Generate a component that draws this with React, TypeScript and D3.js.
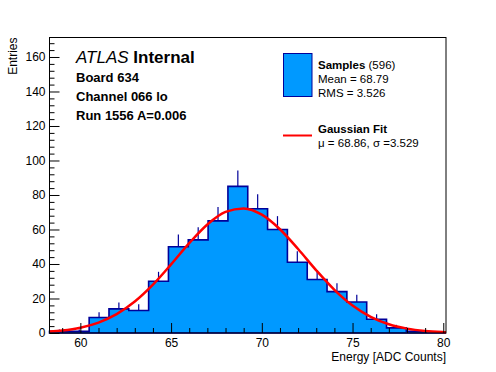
import * as d3 from 'd3';
import React, { useRef, useEffect } from 'react';

// histogram binning and contents
const binLow = 58.3;
const binHigh = 80.15;
const binCounts = [1, 1, 9, 14, 13, 30, 50, 54, 65, 85, 72, 60, 41, 31, 24, 18, 8, 3, 1, 0];

// fitted gaussian, sampled off the red curve
const fitX = [58.3, 59, 60, 61, 62, 63, 64, 65, 66, 67, 68, 69, 70, 71, 72, 73, 74, 75, 76, 77, 78, 79, 80, 80.15];
const fitY = [0.82, 1.46, 3.09, 6.05, 10.93, 18.21, 28.01, 39.75, 52.06, 62.92, 70.18, 72.24, 68.62, 60.15, 48.67, 36.33, 25.03, 15.91, 9.34, 5.05, 2.53, 1.16, 0.5, 0.43];

const yTop = 171.3;
const xMajorTicks = [60, 65, 70, 75, 80];
const yMajorTicks = [0, 20, 40, 60, 80, 100, 120, 140, 160];

const infoLines = ['Board 634', 'Channel 066 lo', 'Run 1556 A=0.006'];

const font = '"Liberation Sans", Arial, Helvetica, sans-serif';
const fillBlue = '#0099ff';
const lineBlue = '#000099';

function App() {
    const ref = useRef<SVGSVGElement>(null);

    useEffect(() => {
        const svg = d3.select(ref.current);
        svg.selectAll('*').remove();

        const left = 49.5, right = 446, top = 37.5, bottom = 333;
        const x = d3.scaleLinear().domain([binLow, binHigh]).range([left, right]);
        const y = d3.scaleLinear().domain([0, yTop]).range([bottom, top]);

        const binWidth = (binHigh - binLow) / binCounts.length;
        const bins = binCounts.map((c, i) => ({ x0: binLow + i * binWidth, x1: binLow + (i + 1) * binWidth, c }));

        svg.append('rect').attr('width', 496).attr('height', 372).attr('fill', '#fff');

        // error bars (drawn under the fill, so only the upper half shows)
        svg.append('g')
            .selectAll('line')
            .data(bins.filter(d => d.c > 0))
            .join('line')
            .attr('x1', d => x((d.x0 + d.x1) / 2))
            .attr('x2', d => x((d.x0 + d.x1) / 2))
            .attr('y1', d => y(Math.max(0, d.c - Math.sqrt(d.c))))
            .attr('y2', d => y(d.c + Math.sqrt(d.c)))
            .attr('stroke', lineBlue)
            .attr('stroke-width', 1.2);

        // histogram
        const steps = bins.map(d => [d.x0, d.c] as [number, number]);
        steps.push([binHigh, binCounts[binCounts.length - 1]]);
        const area = d3.area<[number, number]>()
            .x(d => x(d[0]))
            .y0(y(0))
            .y1(d => y(d[1]))
            .curve(d3.curveStepAfter);
        svg.append('path')
            .attr('d', area(steps))
            .attr('fill', fillBlue)
            .attr('stroke', lineBlue)
            .attr('stroke-width', 1.6);

        // fit
        const fitLine = d3.line<number>()
            .x((d, i) => x(fitX[i]))
            .y(d => y(d))
            .curve(d3.curveMonotoneX);
        svg.append('path')
            .attr('d', fitLine(fitY))
            .attr('fill', 'none')
            .attr('stroke', '#ff0000')
            .attr('stroke-width', 2.5);

        // frame
        svg.append('rect')
            .attr('x', left).attr('y', top)
            .attr('width', right - left).attr('height', bottom - top)
            .attr('fill', 'none').attr('stroke', '#000').attr('stroke-width', 1);

        // x axis
        const xMinor = d3.range(59, 81).filter(v => !xMajorTicks.includes(v));
        svg.append('g')
            .attr('transform', `translate(0,${bottom})`)
            .call(d3.axisBottom(x).tickValues(xMinor).tickSizeInner(-5).tickSizeOuter(0).tickFormat(() => ''))
            .call(g => g.select('.domain').remove());
        svg.append('g')
            .attr('transform', `translate(0,${bottom})`)
            .call(d3.axisBottom(x).tickValues(xMajorTicks).tickSizeInner(-10).tickSizeOuter(0).tickPadding(5))
            .call(g => g.select('.domain').remove())
            .call(g => g.selectAll('text').attr('font-size', 12).attr('font-family', font).attr('fill', '#000'));

        // y axis
        const yMinor = d3.range(0, 172, 4).filter(v => !yMajorTicks.includes(v));
        svg.append('g')
            .attr('transform', `translate(${left},0)`)
            .call(d3.axisLeft(y).tickValues(yMinor).tickSizeInner(-5).tickSizeOuter(0).tickFormat(() => ''))
            .call(g => g.select('.domain').remove());
        svg.append('g')
            .attr('transform', `translate(${left},0)`)
            .call(d3.axisLeft(y).tickValues(yMajorTicks).tickSizeInner(-10).tickSizeOuter(0).tickPadding(4))
            .call(g => g.select('.domain').remove())
            .call(g => g.selectAll('text').attr('font-size', 12).attr('font-family', font).attr('fill', '#000'));

        // axis titles
        svg.append('text')
            .attr('x', right).attr('y', 361)
            .attr('text-anchor', 'end')
            .attr('font-family', font).attr('font-size', 12)
            .text('Energy [ADC Counts]');
        svg.append('text')
            .attr('transform', `translate(17,${top}) rotate(-90)`)
            .attr('text-anchor', 'end')
            .attr('font-family', font).attr('font-size', 12)
            .text('Entries');

        // ATLAS label
        const atlas = svg.append('text')
            .attr('x', 76).attr('y', 63)
            .attr('font-family', font).attr('font-size', 17);
        atlas.append('tspan').attr('font-style', 'italic').text('ATLAS');
        atlas.append('tspan').attr('font-weight', 'bold').text(' Internal');

        svg.append('g')
            .selectAll('text')
            .data(infoLines)
            .join('text')
            .attr('x', 76)
            .attr('y', (d, i) => 82 + i * 19)
            .attr('font-family', font).attr('font-size', 13).attr('font-weight', 'bold')
            .text(d => d);

        // legend
        svg.append('rect')
            .attr('x', 283.5).attr('y', 53.5).attr('width', 28.5).attr('height', 43)
            .attr('fill', fillBlue).attr('stroke', lineBlue).attr('stroke-width', 1);
        const s = svg.append('text')
            .attr('x', 318).attr('y', 69)
            .attr('font-family', font).attr('font-size', 11.5);
        s.append('tspan').attr('font-weight', 'bold').text('Samples');
        s.append('tspan').text(' (596)');
        svg.append('text').attr('x', 318).attr('y', 83)
            .attr('font-family', font).attr('font-size', 11.5).text('Mean = 68.79');
        svg.append('text').attr('x', 318).attr('y', 96.5)
            .attr('font-family', font).attr('font-size', 11.5).text('RMS = 3.526');

        svg.append('line')
            .attr('x1', 283).attr('x2', 312).attr('y1', 135.5).attr('y2', 135.5)
            .attr('stroke', '#ff0000').attr('stroke-width', 2);
        svg.append('text').attr('x', 318).attr('y', 133)
            .attr('font-family', font).attr('font-size', 11.5).attr('font-weight', 'bold').text('Gaussian Fit');
        svg.append('text').attr('x', 318).attr('y', 147)
            .attr('font-family', font).attr('font-size', 11.5).text('\u03bc = 68.86, \u03c3 =3.529');
    }, []);

    return (
        <svg ref={ref} width={496} height={372}
            style={{ position: 'absolute', left: 0, top: 0, display: 'block' }}>
        </svg>
    );
}

export default App;
